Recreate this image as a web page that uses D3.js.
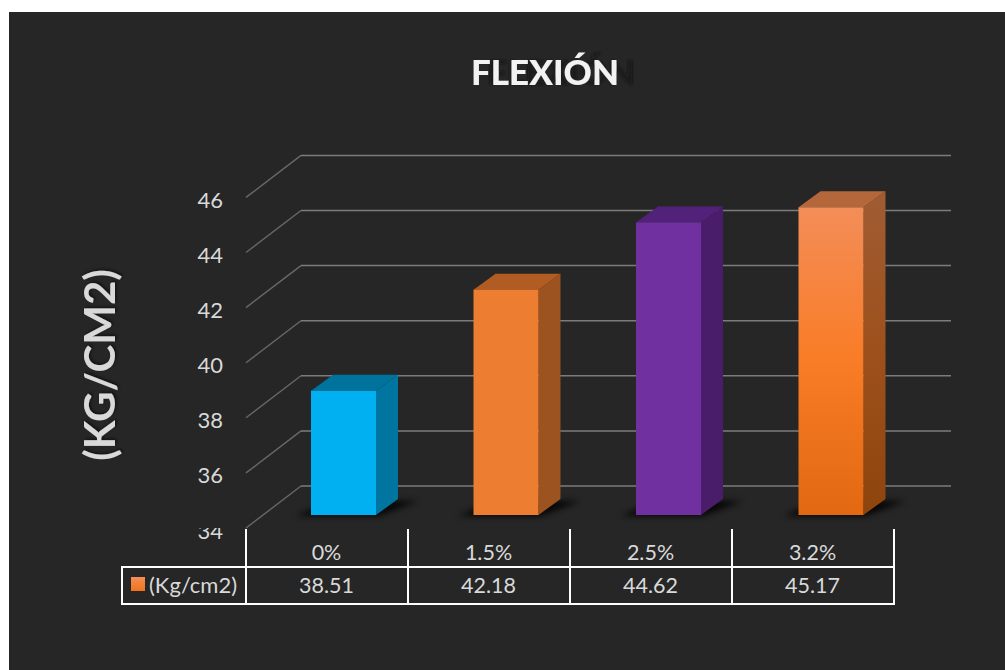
<!DOCTYPE html>
<html>
<head>
<meta charset="utf-8">
<script src="https://cdn.jsdelivr.net/npm/d3@7"></script>
<style>
    html, body { margin: 0; padding: 0; background: #fff; overflow: hidden; }
    text { font-family: Lato, "Open Sans", sans-serif; }
</style>
</head>
<body>
<div id="chart"></div>
<script>
const categories = ["0%", "1.5%", "2.5%", "3.2%"]
const values = [38.51, 42.18, 44.62, 45.17]
const yTicks = [34, 36, 38, 40, 42, 44, 46]
const seriesName = "(Kg/cm2)"
const chartTitle = "FLEXIÓN"
const axisTitle = "(KG/CM2)"

const frontColors = ["#00b0f0", "#ed7d31", "#7030a0", "url(#grad4)"]
const sideColors = ["#0075a0", "#9c531f", "#491d69", "url(#gradSide4)"]
const topColors = ["#00739d", "#b05c22", "#52217a", "#b5673c"]

const svgWidth = 1005, svgHeight = 670
const background = "#262626"

// depth of the floor and depth of one bar
const floor = {dx: 55, dy: -42}
const bar = {dx: 22, dy: -16}

const svg = d3.select("#chart").append("svg")
    .attr("width", svgWidth)
    .attr("height", svgHeight)
    .style("display", "block")

svg.append("rect")
    .attr("x", 9).attr("y", 12)
    .attr("width", svgWidth - 9).attr("height", svgHeight - 12)
    .attr("fill", background)

const defs = svg.append("defs")

const grad4 = defs.append("linearGradient").attr("id", "grad4")
    .attr("x1", 0).attr("y1", 0).attr("x2", 0).attr("y2", 1)
grad4.append("stop").attr("offset", "0%").attr("stop-color", "#f38d58")
grad4.append("stop").attr("offset", "50%").attr("stop-color", "#f97c26")
grad4.append("stop").attr("offset", "100%").attr("stop-color", "#e26812")

const gradSide4 = defs.append("linearGradient").attr("id", "gradSide4")
    .attr("x1", 0).attr("y1", 0).attr("x2", 0).attr("y2", 1)
gradSide4.append("stop").attr("offset", "0%").attr("stop-color", "#a05c33")
gradSide4.append("stop").attr("offset", "50%").attr("stop-color", "#9d501b")
gradSide4.append("stop").attr("offset", "100%").attr("stop-color", "#8e440d")

const swatchGrad = defs.append("linearGradient").attr("id", "gradSwatch")
    .attr("x1", 0).attr("y1", 0).attr("x2", 0).attr("y2", 1)
swatchGrad.append("stop").attr("offset", "0%").attr("stop-color", "#f38d58")
swatchGrad.append("stop").attr("offset", "100%").attr("stop-color", "#f07418")

defs.append("filter").attr("id", "blurShadow")
    .attr("x", "-30%").attr("y", "-60%").attr("width", "160%").attr("height", "220%")
    .append("feGaussianBlur").attr("stdDeviation", 3)

const titleShadow = defs.append("filter").attr("id", "titleShadow")
    .attr("x", "-5%").attr("y", "-20%").attr("width", "125%").attr("height", "140%")
// the title's shadow lands about 16px to the right, blurred
titleShadow.append("feDropShadow")
    .attr("dx", 16).attr("dy", 0).attr("stdDeviation", 1.2)
    .attr("flood-color", "#0d0d0d").attr("flood-opacity", 0.6)

const textShadow = defs.append("filter").attr("id", "textShadow")
    .attr("x", "-10%").attr("y", "-20%").attr("width", "120%").attr("height", "140%")
textShadow.append("feDropShadow")
    .attr("dx", 1.5).attr("dy", 1.5).attr("stdDeviation", 1.5)
    .attr("flood-color", "#000").attr("flood-opacity", 0.55)

// Scales: yScale gives the front plane of the bars, xScale the table columns,
// barScale the bars, which sit slightly wider apart than the columns
const yScale = d3.scaleLinear().domain([34, 46]).range([515, 184.4])
const xScale = d3.scaleBand().domain(categories).range([246, 894])
const barScale = d3.scaleBand().domain(categories).range([246, 896])

const floorFrontY = v => yScale(v) + 13
const backY = v => yScale(v) - 29

// Gridlines
const grid = svg.append("g")
grid.selectAll(".slant")
    .data(yTicks)
    .enter()
    .append("line")
    .attr("x1", 246)
    .attr("y1", d => floorFrontY(d))
    .attr("x2", 246 + floor.dx)
    .attr("y2", d => backY(d))
    .attr("stroke", "#686868")
    .attr("stroke-width", 1.4)

grid.selectAll(".back")
    .data(yTicks)
    .enter()
    .append("line")
    .attr("x1", 246 + floor.dx)
    .attr("y1", d => backY(d))
    .attr("x2", 951)
    .attr("y2", d => backY(d))
    .attr("stroke", "#7c7c7c")
    .attr("stroke-width", 1.5)

// Y axis labels
const yAxis = d3.axisLeft(yScale).tickValues(yTicks).tickSize(0).tickPadding(0)
const yAxisGroup = svg.append("g")
    .attr("transform", "translate(223, 16)")
    .call(yAxis)
yAxisGroup.select(".domain").remove()
yAxisGroup.selectAll("text")
    .attr("fill", "#d9d9d9")
    .style("font-size", "22px")
    .style("font-family", "Lato, sans-serif")

// the lowest label is cut off at the top in the original
svg.append("rect")
    .attr("x", 190).attr("y", 514)
    .attr("width", 45).attr("height", 14)
    .attr("fill", background)

// Bars
const barW = 65
const barX = d => barScale(d) + 65
const bars = svg.selectAll(".bar")
    .data(categories)
    .enter()
    .append("g")
    .attr("class", "bar")

const pts = arr => arr.map(p => p.join(",")).join(" ")

bars.append("polygon")
    .attr("points", d => {
        const x0 = barX(d), x1 = x0 + barW, y0 = yScale(34)
        return pts([[x0 - 15, y0 + 1], [x1 + 2, y0 + 1], [x1 + bar.dx + 20, y0 + bar.dy + 2], [x0 + 20, y0 + bar.dy + 2]])
    })
    .attr("fill", "#000")
    .attr("opacity", 0.85)
    .attr("filter", "url(#blurShadow)")

bars.append("polygon")
    .attr("points", (d, i) => {
        const x1 = barX(d) + barW, y0 = yScale(values[i])
        return pts([[x1, y0], [x1 + bar.dx, y0 + bar.dy], [x1 + bar.dx, yScale(34) + bar.dy], [x1, yScale(34)]])
    })
    .attr("fill", (d, i) => sideColors[i])

bars.append("polygon")
    .attr("points", (d, i) => {
        const x0 = barX(d), x1 = x0 + barW, y0 = yScale(values[i])
        return pts([[x0, y0], [x1, y0], [x1 + bar.dx, y0 + bar.dy], [x0 + bar.dx, y0 + bar.dy]])
    })
    .attr("fill", (d, i) => topColors[i])

bars.append("rect")
    .attr("x", d => barX(d))
    .attr("y", (d, i) => yScale(values[i]))
    .attr("width", barW)
    .attr("height", (d, i) => yScale(34) - yScale(values[i]))
    .attr("fill", (d, i) => frontColors[i])

// Data table
const table = svg.append("g").attr("stroke", "#fff").attr("stroke-width", 2)
const columnEdges = categories.map(d => xScale(d)).concat(xScale.range()[1])
table.selectAll(".vert")
    .data(columnEdges)
    .enter()
    .append("line")
    .attr("x1", d => d).attr("x2", d => d)
    .attr("y1", 529).attr("y2", 605)
table.append("line").attr("x1", 122).attr("x2", 122).attr("y1", 566).attr("y2", 605)
table.append("line").attr("x1", 121).attr("x2", 895).attr("y1", 567).attr("y2", 567)
table.append("line").attr("x1", 121).attr("x2", 895).attr("y1", 604).attr("y2", 604)

const cellText = svg.append("g")
    .attr("fill", "#d9d9d9")
    .attr("font-size", 21.5)
    .attr("text-anchor", "middle")

cellText.selectAll(".cat")
    .data(categories)
    .enter()
    .append("text")
    .attr("x", d => xScale(d) + xScale.bandwidth() / 2 - 0.5)
    .attr("y", 560)
    .text(d => d)

cellText.selectAll(".val")
    .data(values)
    .enter()
    .append("text")
    .attr("x", (d, i) => xScale(categories[i]) + xScale.bandwidth() / 2 - 0.5)
    .attr("y", 593)
    .text(d => d3.format(".2f")(d))

svg.append("rect")
    .attr("x", 131).attr("y", 577)
    .attr("width", 14).attr("height", 14)
    .attr("fill", "url(#gradSwatch)")

svg.append("text")
    .attr("x", 149).attr("y", 593)
    .attr("fill", "#d9d9d9")
    .attr("font-size", 22)
    .text(seriesName)

// Titles
svg.append("text")
    .attr("x", 545).attr("y", 85)
    .attr("text-anchor", "middle")
    .attr("fill", "#f2f2f2")
    .attr("font-size", 35)
    .attr("font-weight", 900)
    .attr("filter", "url(#titleShadow)")
    .text(chartTitle)

svg.append("text")
    .attr("transform", "translate(115, 365) rotate(-90)")
    .attr("text-anchor", "middle")
    .attr("fill", "#d9d9d9")
    .attr("font-size", 42)
    .attr("font-weight", 700)
    .attr("filter", "url(#textShadow)")
    .text(axisTitle)
</script>
</body>
</html>
